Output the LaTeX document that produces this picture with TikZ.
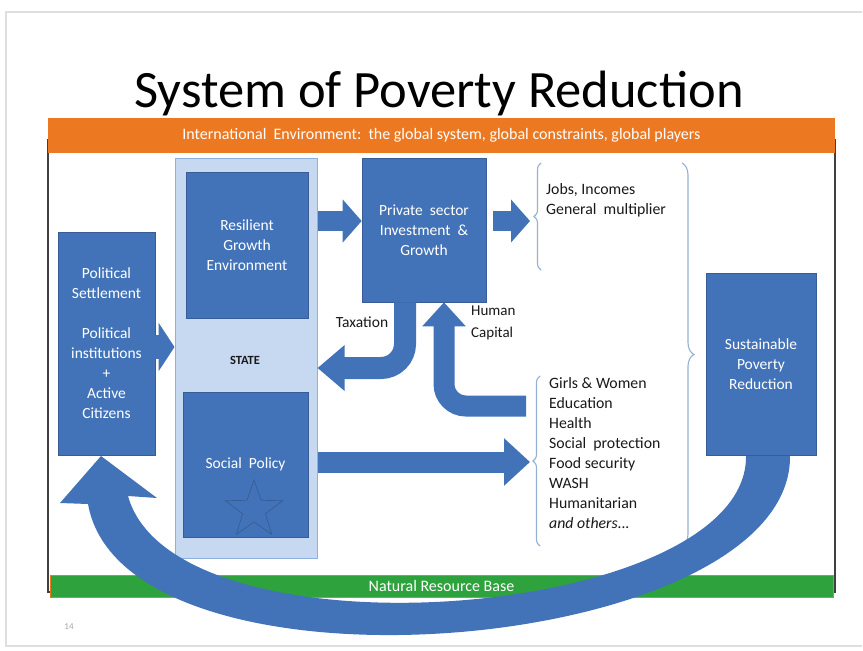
\documentclass[tikz,border=0pt]{standalone}
\usepackage{fontspec}
\setmainfont{Carlito}
\usetikzlibrary{arrows.meta,shapes.geometric,decorations.pathreplacing}
\definecolor{boxblue}{RGB}{66,115,184}
\definecolor{boxedge}{RGB}{56,93,150}
\definecolor{statefill}{RGB}{198,217,241}
\definecolor{stateedge}{RGB}{141,176,222}
\definecolor{bandorange}{RGB}{236,121,34}
\definecolor{bandgreen}{RGB}{46,162,60}
\definecolor{bracecol}{RGB}{150,176,212}
\definecolor{txt}{RGB}{25,25,25}
\tikzset{
  bluebox/.style={fill=boxblue, draw=boxedge, line width=0.6pt, text=white, align=center,
    font=\fontsize{15.5}{20}\selectfont, inner sep=0pt},
  blockarrow/.style={draw=boxblue, line width=#1, line cap=butt},
  lbl/.style={text=txt, font=\fontsize{15.8}{20}\selectfont, inner sep=0pt},
  bracestyle/.style={draw=bracecol, line width=1.1pt, decorate,
    decoration={brace, amplitude=#1}},
}
\begin{document}
\begin{tikzpicture}[x=1pt,y=-1pt]
\useasboundingbox (0,0) rectangle (863,651);
\fill[white] (0,0) rectangle (863,651);
% slide outline
\draw[gray!25, line width=1.2pt] (862,12) -- (6,12) -- (6,646) -- (862,646);
% title
\node[font=\fontsize{52.5}{60}\selectfont, text=black, inner sep=0pt] (title) at (439,94) {System of Poverty Reduction};
% frame
\draw[draw=black!75, line width=1.3pt] (48,140) rectangle (835,592);
% orange band
\node[fill=bandorange, minimum width=787pt, minimum height=35pt, inner sep=0pt, text=white,
  font=\fontsize{16}{18}\selectfont] (intl) at (441.5,135.5)
  {International\ \ Environment:\ \ the global system, global constraints, global players};
% green band
\node[fill=bandgreen, draw=bandorange, line width=1pt, minimum width=783pt, minimum height=22pt, inner sep=0pt, text=white,
  font=\fontsize{16}{18}\selectfont] (nrb) at (441.5,586)
  {Natural Resource Base};
% page number
\node[text=gray!70, font=\fontsize{9}{10}\selectfont, inner sep=0pt] (pnum) at (69,627) {14};
% STATE
\node[fill=statefill, draw=stateedge, line width=1pt, minimum width=142pt, minimum height=400pt, inner sep=0pt] (state) at (246,358) {};
\node[font=\bfseries\fontsize{12.5}{14}\selectfont, text=txt, inner sep=0pt] (statelbl) at (245,360) {STATE};
\node[bluebox, minimum width=122pt, minimum height=146pt] (rge) at (247,245) {Resilient\\Growth\\Environment};
\node[bluebox, minimum width=125pt, minimum height=145pt] (soc) at (245.5,464.5) {Social\ \ Policy};
\node[star, star points=5, star point ratio=2.5, draw=boxedge, line width=0.7pt, minimum size=60pt, inner sep=0pt] (star) at (254,510) {};
% political
\node[bluebox, minimum width=97pt, minimum height=223pt] (pol) at (106.5,343.5)
  {Political\\Settlement\\[20pt]Political\\institutions\\+\\Active\\Citizens};
% private sector
\node[bluebox, minimum width=124pt, minimum height=144pt] (priv) at (424,230) {Private\ \ sector\\Investment\ \ \&\\Growth};
% straight block arrows
\coordinate (a1s) at (318,221);
\coordinate (a2s) at (493,221);
\coordinate (a2e) at (530,221);
\coordinate (a3s) at (318,462);
\coordinate (a3e) at (530,462);
\draw[blockarrow=24pt, -{Triangle[width=48pt,length=16pt]}] (pol.east |- 0,347) -- (state.west |- 0,347);
\draw[blockarrow=20pt, -{Triangle[width=42pt,length=19pt]}] (a1s) -- (priv.west |- a1s);
\draw[blockarrow=20pt, -{Triangle[width=42pt,length=19pt]}] (a2s) -- (a2e);
\draw[blockarrow=21pt, -{Triangle[width=46pt,length=26pt]}] (a3s) -- (a3e);
% taxation arrow
\draw[blockarrow=22pt, rounded corners=24pt, -{Triangle[width=44pt,length=27pt]}]
  (priv.south -| 405,0) -- (405,368) -- (state.east |- 0,368);
% human capital arrow
\coordinate (hcs) at (526,406);
\draw[blockarrow=21pt, rounded corners=22pt, -{Triangle[width=42pt,length=24pt]}]
  (hcs) -- (444,406) -- (priv.south -| 444,0);
% labels
\node[lbl, font=\fontsize{15.5}{20}\selectfont] (tax) at (362,322) {Taxation};
\node[lbl, anchor=west, align=left, font=\fontsize{15}{22}\selectfont] (hc) at (471,323) {Human\\Capital};
% braces
\draw[bracestyle=7pt] (541,270) -- (541,163);
\draw[bracestyle=7pt] (540,546) -- (540,376);
\draw[bracestyle=12pt] (682,163) -- (682,546);
\node[lbl, anchor=north west, align=left] (jobs) at (546,183) {Jobs,\ Incomes\\General\ \ multiplier};
\node[lbl, anchor=north west, align=left] (girls) at (549,377)
  {Girls \& Women\\Education\\Health\\Social\ \ protection\\Food security\\WASH\\Humanitarian\\\textit{and others...}};
% big curved arrow
\fill[boxblue] (790,455) .. controls (794,655) and (125,712) .. (88,504)
  -- (60,503) -- (101,456) -- (157,498) -- (128,496)
  .. controls (175,665) and (750,620) .. (746,455) -- cycle;
% sustainable
\node[bluebox, minimum width=110pt, minimum height=182pt] (spr) at (761,364) {Sustainable\\Poverty\\Reduction};
\end{tikzpicture}
\end{document}
